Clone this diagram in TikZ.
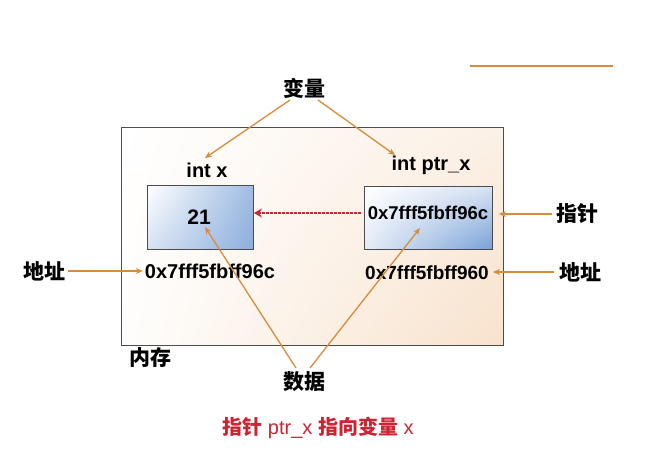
\documentclass[tikz,border=0pt]{standalone}
\usepackage{fontspec}
\setmainfont{Liberation Sans}
\newfontfamily\cjk{Noto Sans CJK SC}
\usetikzlibrary{arrows.meta,shadings}
\definecolor{arr}{RGB}{214,140,60}
\definecolor{capred}{RGB}{205,35,50}
\definecolor{boxblue}{RGB}{120,160,215}
\definecolor{peach}{RGB}{248,226,204}
\tikzset{
  lbl/.style={font=\fontsize{20}{22}\selectfont\bfseries, inner sep=0pt},
  cn/.style={font=\fontsize{21}{23}\selectfont\cjk\bfseries, inner sep=0pt},
  oarr/.style={draw=arr, line width=1.3pt, -{Stealth[length=7pt,width=6pt]}},
  mem/.style={draw=black!70, line width=0.9pt},
}
\begin{document}
\begin{tikzpicture}[x=1pt,y=-1pt]
\useasboundingbox (0,0) rectangle (660,453);
\fill[white] (0,0) rectangle (660,453);
% memory box
\node[mem, minimum width=382pt, minimum height=218pt, inner sep=0pt, upper left=white, upper right=peach!50, lower left=white!95!peach, lower right=peach, anchor=north west] (memory) at (121,127) {};
% cells
\node[mem, minimum width=106pt, minimum height=64pt, inner sep=0pt, upper left=white, lower left=white!70!boxblue, upper right=boxblue!70, lower right=boxblue!85, anchor=north west] (cellx) at (147,185) {};
\node[mem, minimum width=128pt, minimum height=63pt, inner sep=0pt, upper left=white, upper right=white!70!boxblue, lower left=white!80!boxblue, lower right=boxblue, anchor=north west] (cellp) at (364,186) {};
% texts
\node[lbl] (intx) at (207,170) {int x};
\node[lbl] (intp) at (431,165) {int ptr\_x};
\node[lbl, font=\fontsize{21}{23}\selectfont\bfseries] (v21) at (199,217) {21};
\node[lbl, font=\fontsize{18.5}{20}\selectfont\bfseries] (pval) at (428,213) {0x7fff5fbff96c};
\node[lbl] (addrx) at (210,271) {0x7fff5fbff96c};
\node[lbl, font=\fontsize{19}{21}\selectfont\bfseries] (addrp) at (427,273) {0x7fff5fbff960};
\node[cn] (bianliang) at (304,88) {变量};
\node[cn] (shuju) at (304,382) {数据};
\node[cn] (neicun) at (150,358) {内存};
\node[cn] (dizhiL) at (44,271) {地址};
\node[cn] (zhizhen) at (577,214) {指针};
\node[cn] (dizhiR) at (580,272) {地址};
\node[font=\fontsize{20}{22}\selectfont, text=capred, inner sep=0pt] (caption) at (318,428) {{\cjk\bfseries 指针} ptr\_x {\cjk\bfseries 指向变量} x};
% arrow end points
\coordinate (t1) at (205,158);
\coordinate (t2) at (395,155);
\coordinate (d1) at (205,227);
\coordinate (d2) at (420,228);
\coordinate (bv1) at (290,100);
\coordinate (bv2) at (318,100);
\coordinate (s1) at (296,368);
\coordinate (s2) at (310,368);
% arrows
\draw[oarr] (bv1) -- (t1);
\draw[oarr] (bv2) -- (t2);
\draw[oarr] (s1) -- (d1);
\draw[oarr] (s2) -- (d2);
\draw[oarr] (dizhiL.east) ++(3,0) coordinate (la) -- ([xshift=-2pt]addrx.west);
\draw[oarr] (zhizhen.west) ++(-4,0) coordinate (za) -- ([xshift=6pt]cellp.east |- zhizhen.west);
\draw[oarr] (dizhiR.west) ++(-5,0) coordinate (ra) -- ([xshift=4pt]addrp.east |- dizhiR.west);
\draw[capred, line width=1.5pt, dash pattern=on 3pt off 1pt, -{Stealth[length=8pt,width=9pt,open]}] ([xshift=-3pt]cellp.west |- pval.west) -- (cellx.east |- pval.west);
% top right line
\coordinate (o1) at (470,66);
\coordinate (o2) at (613,66);
\draw[arr, line width=1.5pt] (o1) -- (o2);
\end{tikzpicture}
\end{document}
